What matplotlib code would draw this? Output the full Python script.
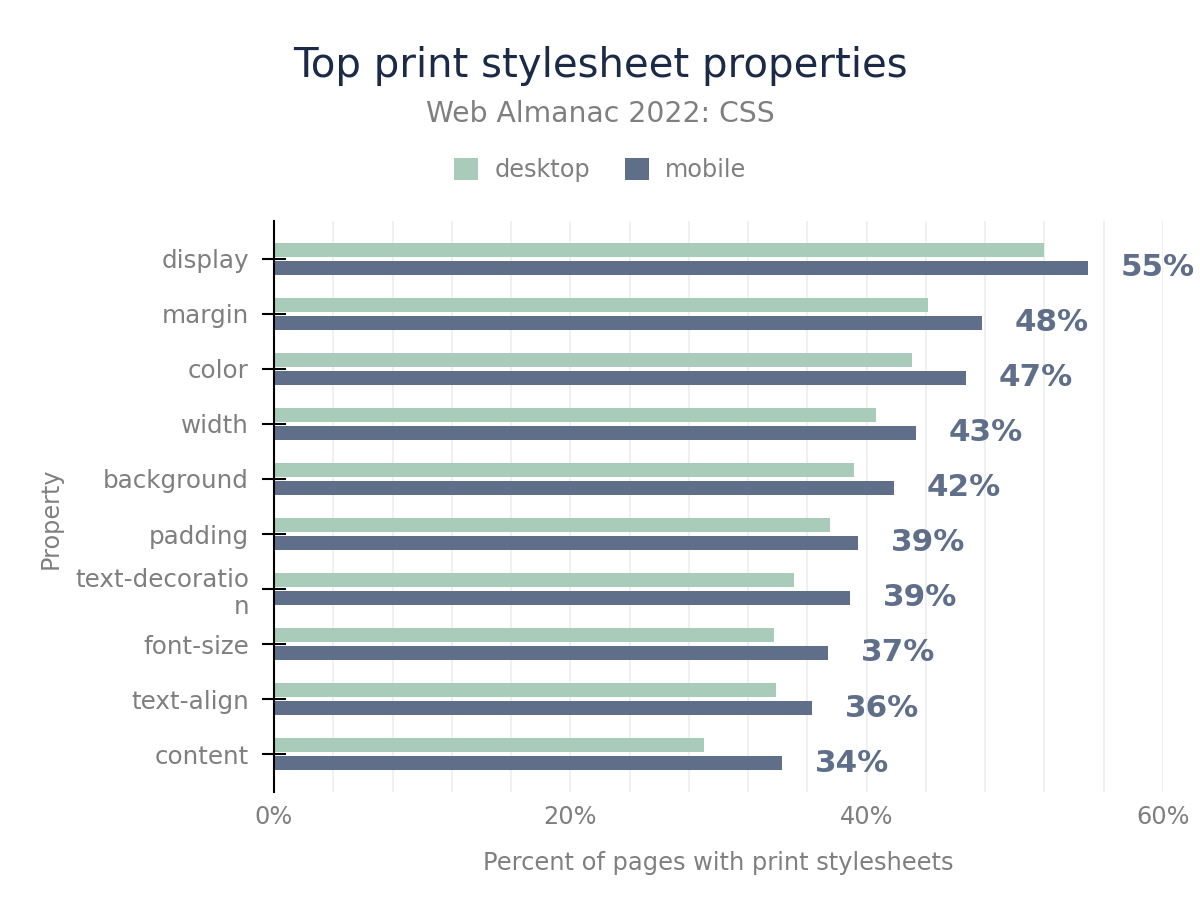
import numpy as np
import matplotlib
matplotlib.use("Agg")
import matplotlib.pyplot as plt
from matplotlib.patches import Patch
from matplotlib.ticker import MultipleLocator, FuncFormatter

# data (percent of pages)
properties = ["display", "margin", "color", "width", "background", "padding",
              "text-decoratio\nn", "font-size", "text-align", "content"]
desktop = [51.96, 44.13, 43.05, 40.62, 39.14, 37.52, 35.09, 33.74, 33.87, 29.01]
mobile = [54.93, 47.77, 46.69, 43.32, 41.84, 39.41, 38.87, 37.38, 36.30, 34.28]
mobile_labels = ["55%", "48%", "47%", "43%", "42%", "39%", "39%", "37%", "36%", "34%"]

DESKTOP_COLOR = "#a8cbba"
MOBILE_COLOR = "#5f6f8a"
GREY = "#7f7f7f"
TITLE_COLOR = "#1b2a47"

plt.rcParams["font.family"] = ["DejaVu Sans"]

fig = plt.figure(figsize=(12, 9.1), dpi=100)
ax = fig.add_axes([274 / 1200, 1 - 792 / 910, 889 / 1200, 571 / 910])

y = np.arange(len(properties))
bar_h = 0.254
offset = 0.163

ax.barh(y - offset, desktop, height=bar_h, color=DESKTOP_COLOR, zorder=3)
ax.barh(y + offset, mobile, height=bar_h, color=MOBILE_COLOR, zorder=3)

# value labels for mobile only
for yi, val, lab in zip(y, mobile, mobile_labels):
    ax.annotate(lab, (val, yi + offset), xytext=(23.5, 0), textcoords="offset points",
                ha="left", va="center", fontsize=22.3, fontweight="bold", color=MOBILE_COLOR)

ax.set_xlim(0, 60)
ax.set_ylim(len(properties) - 1 + 0.69, -0.69)

ax.xaxis.set_major_locator(MultipleLocator(20))
ax.xaxis.set_minor_locator(MultipleLocator(4))
ax.xaxis.set_major_formatter(FuncFormatter(lambda v, p: f"{v:.0f}%"))
ax.grid(axis="x", which="both", color="#f0f0f0", linewidth=1.4, zorder=0)
ax.set_axisbelow(True)

ax.set_yticks(y)
ax.set_yticklabels(properties, ha="right", multialignment="right")
ax.tick_params(axis="y", direction="inout", length=17.3, width=1.5, color="black",
               pad=9.4, labelsize=17.7, labelcolor=GREY)
ax.tick_params(axis="x", which="both", length=0, pad=9, labelsize=17.3, labelcolor=GREY)

for side in ["top", "right", "bottom"]:
    ax.spines[side].set_visible(False)
ax.spines["left"].set_linewidth(1.5)
ax.spines["left"].set_color("black")
ax.spines["left"].set_zorder(4)

ax.set_xlabel("Percent of pages with print stylesheets", fontsize=17.4, color=GREY, labelpad=16)
ax.set_ylabel("Property", fontsize=17.2, color=GREY)
ax.yaxis.set_label_coords(-0.238, 0.48)

fig.text(0.5, 1 - 66 / 910, "Top print stylesheet properties", ha="center", va="center",
         fontsize=29, color=TITLE_COLOR)
fig.text(0.5, 1 - 114 / 910, "Web Almanac 2022: CSS", ha="center", va="center",
         fontsize=20.3, color=GREY)

handles = [Patch(facecolor=DESKTOP_COLOR, label="desktop"),
           Patch(facecolor=MOBILE_COLOR, label="mobile")]
fig.legend(handles=handles, loc="center", bbox_to_anchor=(0.5, 1 - 170 / 910), ncol=2,
           frameon=False, fontsize=17.3, labelcolor=GREY, handlelength=1.0, handleheight=1.0,
           handletextpad=0.68, columnspacing=1.44)

fig.savefig("out.png", dpi=100)
